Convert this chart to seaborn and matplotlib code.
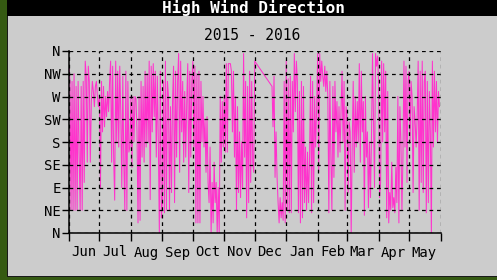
import numpy as np
import pandas as pd
import matplotlib
matplotlib.use("Agg")
import matplotlib.pyplot as plt
import matplotlib.dates as mdates
from matplotlib.patches import Rectangle
import seaborn as sns

nan = np.nan

# daily high-wind direction in degrees (0 = N, 90 = E ...)
jun = [330, 300, 45, 300, 45, 315, 45, 290, 45, 300, 155, 45, 290, 45, 300,
       100, 340, 310, 140, 330, 300, 140, 260, 300, 280, 250, 290, 300, 270, 250]
jul = [270, 90, 300, 200, 290, 210, 270, 230, 280, 240, 300, 340, 140, 330, 150,
       65, 340, 180, 320, 170, 330, 240, 90, 310, 140, 45, 320, 45, 300, 160, 170]
aug = [270, 130, 270, 180, 270, 265, 200, 20, 270, 25, 300, 150, 290, 140, 320,
       170, 315, 180, 340, 66, 330, 200, 335, 230, 320, 150, 310, 180, 0, 320, 30]
sep = [60, 300, 40, 340, 45, 300, 270, 45, 250, 80, 260, 330, 60, 320, 150,
       300, 355, 120, 340, 200, 300, 140, 280, 150, 260, 335, 80, 320, 150, 300]
oct_ = [340, 170, 330, 20, 315, 20, 320, 20, 300, 180, 270, 170, 225, 120, 230,
        100, 60, 170, 0, 100, 20, 140, 60, 100, 0, 90, 0, 270, 140, 260, 170]
nov = [270, 160, 335, 160, 335, 335, 335, 320, 200, 320, 150, 270, 45, 250, 80,
       200, 70, 180, 90, 355, 150, 300, 30, 290, 60, 320, 100, 300, 140, 120]
dec = [340, nan, nan, nan, nan, nan, nan, nan, nan, nan, nan, nan, nan, nan, nan,
       nan, nan, 290, 210, 310, 110, 200, 110, 60, 20, 70, 30, 60, 25, 300, 20]
jan = [340, 45, 305, 40, 310, 40, 300, 200, 355, 240, 340, 300, 40, 280, 20,
       300, 30, 290, 60, 170, 45, 160, 60, 150, 310, 40, 300, 60, 270, 170, 250]
feb = [355, 120, 355, 300, 340, 310, 290, 330, 280, 320, 270, 40, 300, 150, 45,
       290, 110, 300, 200, 260, 150, 250, 160, 240, 320, 180, 300, 45, 250]
mar = [230, 80, 220, 200, 0, 170, 300, 120, 270, 170, 260, 180, 335, 140, 320,
       200, 260, 35, 270, 150, 200, 50, 180, 70, 190, 355, 220, 90, 355, 330, 350]
apr = [300, 70, 100, 340, 180, 335, 200, 320, 30, 280, 20, 80, 45, 140, 50,
       70, 40, 130, 60, 270, 20, 250, 180, 45, 150, 340, 170, 330, 100, 300]
may = [320, 180, 300, 270, 80, 250, 220, 170, 230, 340, 45, 320, 100, 340, 80,
       300, 320, 40, 300, 60, 280, 200, 0, 340, 170, 320, 200, 300, 180, 280, 250]

compass = ["N", "NE", "E", "SE", "S", "SW", "W", "NW", "N"]

values = jun + jul + aug + sep + oct_ + nov + dec + jan + feb + mar + apr + may
dates = pd.date_range("2015-06-01", periods=len(values), freq="D")
df = pd.DataFrame({"date": dates, "deg": values}).dropna()

W, H = 497, 280
fig = plt.figure(figsize=(W / 100, H / 100), dpi=100)
fig.patch.set_facecolor("#cccccc")

# frame: green strip on the left / bottom, black title bar
fig.patches.append(Rectangle((0, 0), 7 / W, 1, transform=fig.transFigure,
                             facecolor="#355a12", edgecolor="none", zorder=0))
fig.patches.append(Rectangle((7 / W, 0), 1 / W, 1, transform=fig.transFigure,
                             facecolor="#1a1a1a", edgecolor="none", zorder=0))
fig.patches.append(Rectangle((0, 0), 1, 3 / H, transform=fig.transFigure,
                             facecolor="#355a12", edgecolor="none", zorder=0))
fig.patches.append(Rectangle((7 / W, 3 / H), 1, 1 / H, transform=fig.transFigure,
                             facecolor="#1a1a1a", edgecolor="none", zorder=0))
fig.patches.append(Rectangle((7 / W, 1 - 16 / H), 1, 16 / H, transform=fig.transFigure,
                             facecolor="black", edgecolor="none", zorder=0))

fig.text(253 / W, 1 - 8 / H, "High Wind Direction", color="white",
         fontsize=11.5, fontweight="bold", family="DejaVu Sans Mono",
         ha="center", va="center")
fig.text(252 / W, 1 - 35 / H, "2015 - 2016", color="black",
         fontsize=10.5, family="DejaVu Sans Mono", ha="center", va="center")

ax = fig.add_axes([69 / W, (H - 233) / H, (440.5 - 69) / W, (233 - 51) / H])
ax.set_facecolor("#cccccc")

sns.lineplot(data=df, x="date", y="deg", color="#ff33cc", linewidth=0.75,
             estimator=None, ax=ax)

ax.set_xlim(pd.Timestamp("2015-06-01"), pd.Timestamp("2016-06-01"))
ax.set_ylim(0, 360)
ax.set_yticks(np.arange(0, 361, 45))
ax.set_yticklabels(compass, family="DejaVu Sans Mono", fontsize=10)

ax.xaxis.set_major_locator(mdates.MonthLocator())
ax.xaxis.set_major_formatter(plt.NullFormatter())
ax.xaxis.set_minor_locator(mdates.MonthLocator(bymonthday=16))
ax.xaxis.set_minor_formatter(mdates.DateFormatter("%b"))
for lab in ax.xaxis.get_minorticklabels():
    lab.set_family("DejaVu Sans Mono")
    lab.set_fontsize(10)

ax.tick_params(axis="x", which="major", length=6, width=1, color="black")
ax.tick_params(axis="x", which="minor", length=0, pad=9)
ax.tick_params(axis="y", length=5, width=1, color="black", pad=1)
ax.set_xlabel("")
ax.set_ylabel("")

ax.set_axisbelow(False)
ax.grid(True, which="major", color="black", linestyle=(0, (3, 3)), linewidth=0.9)
for side in ["top", "right"]:
    ax.spines[side].set_visible(False)
for side in ["left", "bottom"]:
    ax.spines[side].set_color("black")
    ax.spines[side].set_linewidth(1.1)

fig.savefig("out.png", dpi=100, facecolor=fig.get_facecolor())
